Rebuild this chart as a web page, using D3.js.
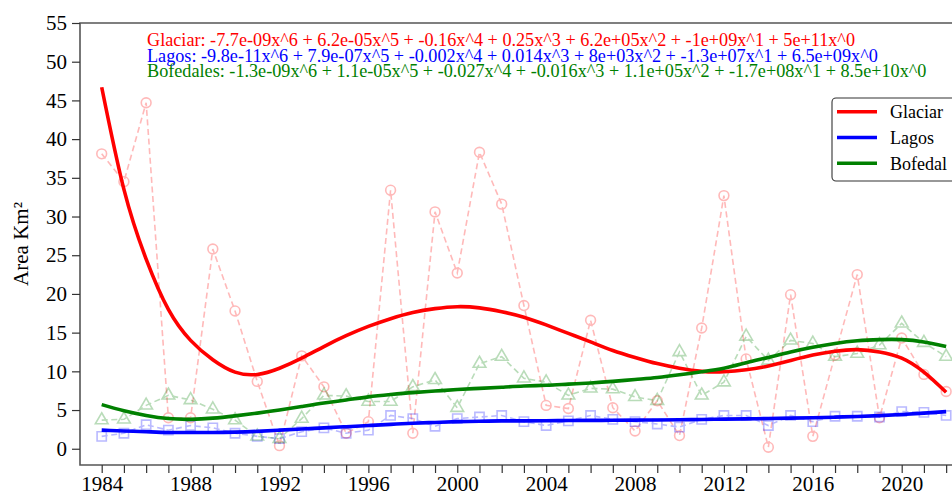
<!DOCTYPE html>
<html>
<head>
<meta charset="utf-8">
<script src="https://cdn.jsdelivr.net/npm/d3@7"></script>
<style>
  html, body { margin: 0; padding: 0; background: #fff; }
  svg { display: block; font-family: "Liberation Serif", "Times New Roman", serif; }
</style>
</head>
<body>
<svg id="chart" width="952" height="499"></svg>
<script>
// Yearly surface areas (km²)
const years = d3.range(1984, 2023);

const glaciar = [38.1, 34.5, 44.7, 4.0, 4.0, 25.8, 17.8, 8.7, 0.4, 12.0,
  8.0, 2.0, 3.5, 33.4, 2.0, 30.6, 22.7, 38.3, 31.6, 18.5,
  5.6, 5.2, 16.6, 5.3, 2.3, 6.2, 1.7, 15.6, 32.7, 11.6,
  0.2, 19.9, 1.6, 12.1, 22.5, 4.0, 14.3, 9.6, 7.4];

const lagos = [1.6, 2.0, 3.1, 2.4, 3.0, 2.7, 2.0, 1.6, 1.3, 2.2,
  2.7, 2.0, 2.4, 4.3, 3.9, 2.9, 3.9, 4.1, 4.3, 3.5,
  3.0, 3.6, 4.3, 3.8, 3.5, 3.2, 2.8, 3.8, 4.3, 4.3,
  3.0, 4.3, 3.5, 4.2, 4.2, 4.1, 4.8, 4.7, 4.3];

const bofedal = [3.7, 3.8, 5.6, 6.9, 6.3, 5.1, 3.7, 1.6, 1.3, 3.9,
  6.9, 6.8, 6.1, 6.1, 8.0, 8.9, 5.3, 11.0, 11.9, 9.1,
  8.6, 6.9, 7.8, 7.7, 6.7, 6.2, 12.5, 6.9, 8.6, 14.5,
  11.4, 14.0, 13.6, 11.9, 12.3, 13.4, 16.2, 13.7, 11.9];

// Sixth-degree trend curves, sampled once per year
const glaciarTrend = [46.7, 33.5, 24.5, 18.0, 14.0, 11.5, 9.9, 9.6, 10.4, 11.7,
  13.2, 14.6, 15.8, 16.8, 17.6, 18.1, 18.35, 18.2, 17.7, 17.0,
  16.0, 14.9, 13.8, 12.7, 11.8, 11.0, 10.4, 10.0, 9.95, 10.2,
  10.7, 11.4, 12.1, 12.6, 12.8, 12.5, 11.7, 9.9, 7.3];

const lagosTrend = [2.4, 2.3, 2.2, 2.1, 2.1, 2.1, 2.15, 2.25, 2.4, 2.55,
  2.7, 2.85, 3.0, 3.15, 3.3, 3.4, 3.5, 3.55, 3.6, 3.6,
  3.62, 3.64, 3.66, 3.68, 3.7, 3.72, 3.75, 3.78, 3.82, 3.86,
  3.9, 3.95, 4.0, 4.08, 4.17, 4.28, 4.42, 4.6, 4.8];

const bofedalTrend = [5.7, 4.9, 4.3, 3.9, 3.8, 3.95, 4.25, 4.6, 5.0, 5.45,
  5.9, 6.3, 6.7, 7.0, 7.25, 7.45, 7.65, 7.8, 7.95, 8.1,
  8.2, 8.35, 8.5, 8.7, 8.95, 9.2, 9.55, 9.95, 10.4, 11.1,
  11.8, 12.5, 13.1, 13.6, 13.95, 14.1, 14.1, 13.8, 13.2];

const yTicks = d3.range(0, 56, 5);
const xLabelYears = d3.range(1984, 2023, 4);

const equations = [
  "Glaciar: -7.7e-09x^6 + 6.2e-05x^5 + -0.16x^4 + 0.25x^3 + 6.2e+05x^2 + -1e+09x^1 + 5e+11x^0",
  "Lagos: -9.8e-11x^6 + 7.9e-07x^5 + -0.002x^4 + 0.014x^3 + 8e+03x^2 + -1.3e+07x^1 + 6.5e+09x^0",
  "Bofedales: -1.3e-09x^6 + 1.1e-05x^5 + -0.027x^4 + -0.016x^3 + 1.1e+05x^2 + -1.7e+08x^1 + 8.5e+10x^0"
];
const legendNames = ["Glaciar", "Lagos", "Bofedal"];
const colors = ["#ff0000", "#0000ff", "#008000"];

// ---- layout ----
const svg = d3.select("#chart");
const plotLeft = 80, plotTop = 23, plotBottom = 465;
const x = d3.scaleLinear().domain([1984, 2020]).range([101.7, 901.7]);
const plotRight = x(2022.98);
const y = d3.scaleLinear().domain([-2.1, 55]).range([plotBottom, plotTop]);

svg.append("rect").attr("width", 952).attr("height", 499).attr("fill", "#fff");

const series = [
  { raw: glaciar, trend: glaciarTrend, color: colors[0], marker: "circle" },
  { raw: lagos, trend: lagosTrend, color: colors[1], marker: "square" },
  { raw: bofedal, trend: bofedalTrend, color: colors[2], marker: "triangle" }
];

const rawLine = d3.line().x((d, i) => x(years[i])).y(d => y(d));
const trendLine = d3.line().x((d, i) => x(years[i])).y(d => y(d)).curve(d3.curveNatural);

// faint dashed observations with hollow markers
series.forEach(s => {
  const g = svg.append("g").attr("opacity", 0.27);
  g.append("path").datum(s.raw)
    .attr("d", rawLine)
    .attr("fill", "none")
    .attr("stroke", s.color)
    .attr("stroke-width", 1.6)
    .attr("stroke-dasharray", "6,3.6");
  const sym = s.marker === "circle" ? d3.symbolCircle
            : s.marker === "square" ? d3.symbolSquare : d3.symbolTriangle;
  const size = s.marker === "circle" ? 75 : s.marker === "square" ? 85 : 70;
  g.selectAll("path.m").data(s.raw).enter().append("path")
    .attr("class", "m")
    .attr("d", d3.symbol().type(sym).size(size))
    .attr("transform", (d, i) => `translate(${x(years[i])},${y(d)})`)
    .attr("fill", "none")
    .attr("stroke", s.color)
    .attr("stroke-width", 1.6);
});

// trend curves
series.forEach(s => {
  svg.append("path").datum(s.trend)
    .attr("d", trendLine)
    .attr("fill", "none")
    .attr("stroke", s.color)
    .attr("stroke-width", 3.6);
});

// frame
const frame = svg.append("g").attr("stroke", "#555").attr("stroke-width", 1.6).attr("fill", "none");
frame.append("path").attr("d", `M${plotLeft},${plotBottom}V${plotTop}H${plotRight}V${plotBottom}Z`);

// axes
const xAxis = d3.axisBottom(x)
  .tickValues(years)
  .tickSize(8)
  .tickPadding(3)
  .tickFormat(d => xLabelYears.includes(d) ? d : "");
const gx = svg.append("g").attr("transform", `translate(0,${plotBottom})`).call(xAxis);
gx.select(".domain").remove();
gx.selectAll(".tick line").attr("stroke", "#333").attr("stroke-width", 1.2);
gx.selectAll(".tick text").attr("font-size", 21).attr("fill", "#000")
  .attr("font-family", "Liberation Serif");

const yAxis = d3.axisLeft(y).tickValues(yTicks).tickSize(8).tickPadding(5);
const gy = svg.append("g").attr("transform", `translate(${plotLeft},0)`).call(yAxis);
gy.select(".domain").remove();
gy.selectAll(".tick line").attr("stroke", "#333").attr("stroke-width", 1.2);
gy.selectAll(".tick text").attr("font-size", 21).attr("fill", "#000")
  .attr("font-family", "Liberation Serif");

svg.append("text")
  .attr("transform", `translate(28,${(plotTop + plotBottom) / 2}) rotate(-90)`)
  .attr("text-anchor", "middle")
  .attr("font-size", 21)
  .text("Area Km²");

// fitted equations
equations.forEach((t, i) => {
  svg.append("text")
    .attr("x", 147)
    .attr("y", 46 + i * 15.5)
    .attr("font-size", 18.2)
    .attr("fill", colors[i])
    .text(t);
});

// legend
const lg = svg.append("g");
lg.append("rect")
  .attr("x", 832).attr("y", 98).attr("width", 140).attr("height", 83)
  .attr("rx", 4).attr("fill", "#fff").attr("stroke", "#333").attr("stroke-width", 1.1);
legendNames.forEach((name, i) => {
  const ly = 111.7 + i * 25.8;
  lg.append("line").attr("x1", 837).attr("x2", 877).attr("y1", ly).attr("y2", ly)
    .attr("stroke", colors[i]).attr("stroke-width", 3.6);
  lg.append("text").attr("x", 890).attr("y", ly).attr("dy", "0.35em")
    .attr("font-size", 18).attr("fill", "#000").text(name);
});
</script>
</body>
</html>
